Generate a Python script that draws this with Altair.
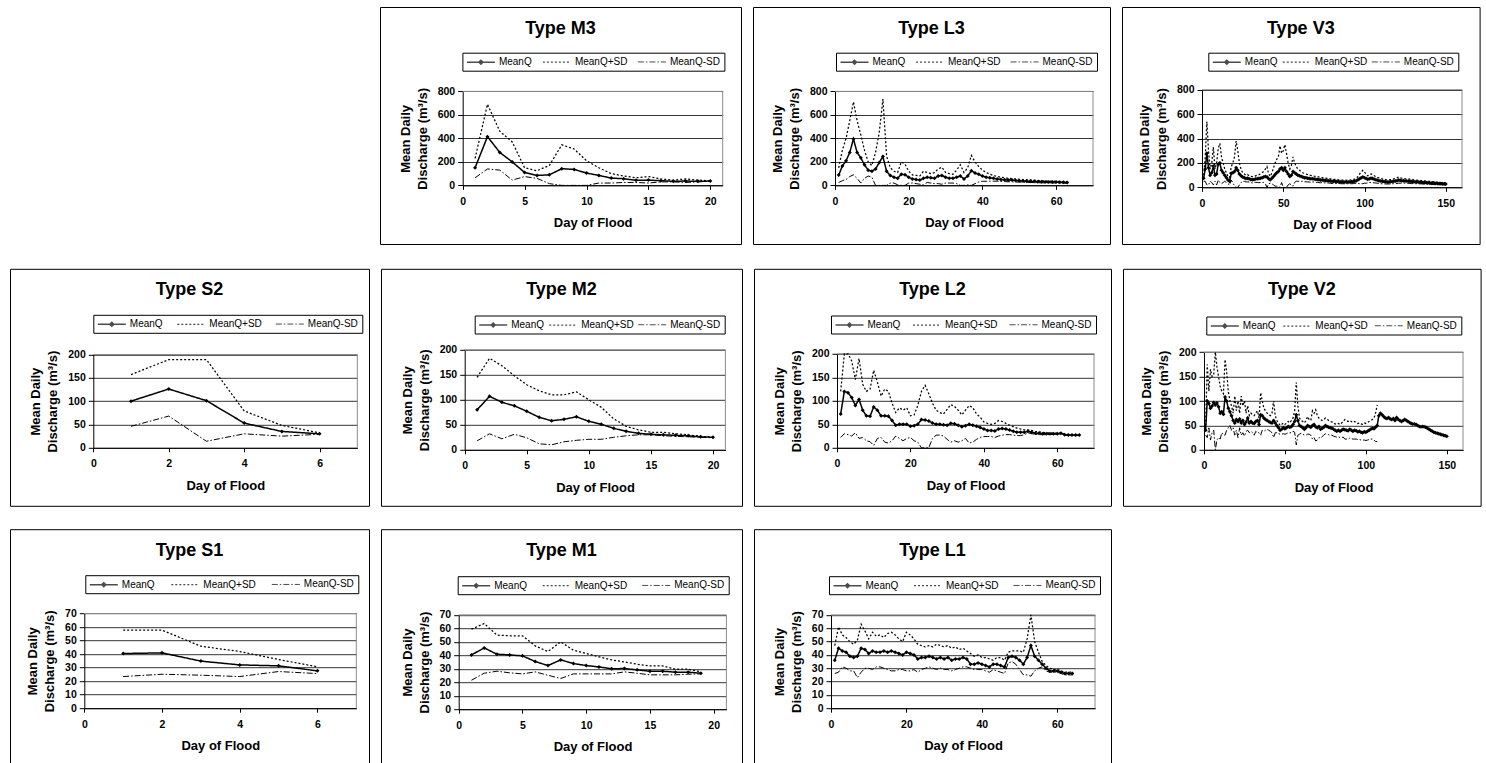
import altair as alt
import pandas as pd

FONT = "Liberation Sans"
SERIES = ["MeanQ", "MeanQ+SD", "MeanQ-SD"]
DASHES = [[1, 0], [2, 2], [6, 2, 1.5, 2]]
MEAN_PATH = "M-2.8,0H2.8M0,-0.4L0.4,0L0,0.4L-0.4,0Z"
LINE_PATH = "M-2.8,0H2.8"

# ---------------- data ----------------
M3_mean = [150, 415, 280, 200, 110, 85, 90, 142, 136, 105, 85, 62, 57, 43, 45, 40, 35, 37, 35, 37]
M3_plus = [230, 690, 460, 370, 150, 125, 170, 345, 310, 210, 150, 100, 80, 65, 75, 55, 45, 55, 45, 40]
M3_minus = [65, 140, 130, 45, 75, 60, 15, -50, -30, -5, 20, 20, 25, 25, 20, 30, 30, 25, 30, 35]

L3_mean = [88, 165, 210, 280, 395, 280, 235, 175, 130, 120,
           140, 195, 245, 120, 85, 70, 60, 95, 90, 70,
           55, 50, 45, 60, 70, 65, 60, 80, 85, 70,
           60, 60, 70, 80, 55, 80, 125, 105, 95, 80,
           70, 65, 60, 55, 50, 48, 45, 45, 42, 40,
           38, 36, 35, 33, 32, 31, 30, 29, 28, 28,
           27, 26, 25]
L3_plus = [150, 300, 400, 550, 710, 550, 430, 300, 200, 170,
           280, 450, 735, 250, 150, 120, 110, 200, 180, 120,
           90, 85, 80, 120, 110, 100, 110, 140, 155, 110,
           100, 95, 130, 175, 110, 150, 255, 200, 160, 130,
           110, 95, 85, 75, 70, 65, 60, 58, 55, 52,
           50, 48, 46, 44, 42, 40, 38, 37, 36, 35,
           34, 33, 32]
L3_minus = [25, 40, 50, 75, 90, 60, 20, 60, 80, 70,
            -10, -60, -200, -10, 20, 20, 5, -10, 0, 20,
            20, 15, 10, 5, 25, 20, 15, 15, 10, 20,
            20, 20, 15, -15, 0, 5, -5, 15, 30, 35,
            35, 36, 36, 36, 34, 32, 31, 30, 29, 28,
            27, 26, 25, 24, 23, 22, 22, 21, 21, 20,
            20, 19, 18]

V3_mean = [75, 150, 280, 160, 100, 120, 175, 100, 110, 190,
           200, 140, 120, 100, 80, 60, 50, 115, 120, 130,
           160, 140, 110, 95, 85, 80, 72, 75, 70, 65,
           62, 65, 68, 70, 72, 75, 80, 85, 90, 85,
           70, 62, 75, 90, 105, 120, 130, 150, 160, 140,
           160, 130, 110, 90, 100, 130, 120, 110, 100, 95,
           90, 85, 80, 78, 75, 72, 70, 70, 68, 66,
           64, 62, 60, 60, 58, 56, 55, 54, 52, 50,
           50, 48, 48, 47, 46, 45, 45, 44, 44, 45,
           45, 46, 48, 50, 55, 62, 70, 78, 85, 80,
           72, 66, 70, 75, 72, 66, 62, 58, 55, 52,
           50, 48, 46, 45, 45, 46, 48, 50, 52, 55,
           60, 56, 55, 54, 52, 52, 50, 50, 48, 47,
           46, 45, 44, 43, 42, 41, 40, 39, 38, 37,
           36, 35, 34, 33, 32, 31, 30, 30, 29, 28]
V3_plus = [100, 250, 540, 300, 150, 200, 330, 150, 200, 320,
           360, 250, 200, 150, 120, 90, 80, 170, 200, 250,
           380, 300, 200, 150, 120, 110, 100, 105, 95, 90,
           88, 90, 95, 100, 105, 110, 120, 130, 150, 170,
           110, 90, 120, 160, 200, 230, 250, 340, 280, 300,
           350, 280, 200, 150, 180, 250, 200, 170, 150, 140,
           130, 120, 115, 110, 105, 100, 98, 95, 92, 90,
           88, 85, 82, 80, 78, 76, 74, 72, 70, 68,
           66, 65, 64, 62, 61, 60, 60, 59, 58, 60,
           60, 62, 65, 68, 75, 90, 110, 125, 140, 125,
           110, 95, 100, 110, 105, 95, 88, 82, 78, 74,
           70, 67, 64, 62, 62, 64, 66, 70, 74, 78,
           85, 78, 75, 73, 70, 70, 68, 67, 65, 63,
           62, 60, 58, 57, 55, 54, 53, 51, 50, 49,
           48, 46, 45, 44, 42, 41, 40, 39, 38, 37]
V3_minus = [50, 50, 20, 20, 50, 40, 20, 50, 20, 60,
            40, 30, 40, 50, 40, 30, 20, 60, 40, 10,
            -60, -20, 20, 40, 50, 50, 45, 45, 45, 40,
            36, 40, 41, 40, 39, 40, 40, 40, 30, 0,
            30, 34, 30, 20, 10, 10, 10, -40, 40, -20,
            -30, -20, 20, 30, 20, 10, 40, 50, 50, 50,
            50, 50, 45, 46, 45, 44, 42, 45, 44, 42,
            40, 39, 38, 40, 38, 36, 36, 36, 34, 32,
            34, 31, 32, 32, 31, 30, 30, 29, 30, 30,
            30, 30, 31, 32, 35, 34, 30, 31, 30, 35,
            34, 37, 40, 40, 39, 37, 36, 34, 32, 30,
            30, 29, 28, 28, 28, 28, 30, 30, 30, 32,
            35, 34, 35, 35, 34, 34, 32, 33, 31, 31,
            30, 30, 30, 29, 29, 28, 27, 27, 26, 25,
            24, 24, 23, 22, 22, 21, 20, 21, 20, 19]

S2_mean = [100, 126, 101, 53, 35, 30]
S2_plus = [157, 189, 189, 79, 48, 32]
S2_minus = [46, 68, 14, 30, 25, 29]

M2_mean = [80, 107, 95, 88, 77, 65, 58, 61, 66, 57, 51, 43, 37, 33, 31, 30, 29, 28, 26, 25]
M2_plus = [145, 183, 168, 148, 130, 118, 110, 110, 116, 100, 85, 62, 47, 40, 35, 35, 32, 30, 27, 25]
M2_minus = [18, 32, 22, 31, 24, 12, 10, 16, 19, 21, 21, 25, 28, 30, 30, 28, 27, 26, 25, 24]

L2_mean = [72, 120, 117, 107, 90, 103, 80, 68, 67, 87,
           80, 68, 68, 67, 58, 48, 50, 50, 50, 46,
           47, 50, 60, 59, 57, 53, 50, 50, 49, 48,
           52, 51, 48, 45, 47, 50, 48, 46, 43, 40,
           37, 37, 36, 40, 41, 40, 38, 35, 33, 33,
           33, 35, 33, 31, 31, 30, 30, 30, 30, 30,
           31, 28, 27, 27, 27, 27]
L2_plus = [120, 205, 200, 185, 145, 190, 135, 120, 125, 165,
           140, 110, 125, 120, 95, 75, 85, 80, 85, 68,
           70, 90, 120, 133, 115, 95, 80, 75, 72, 82,
           92, 88, 80, 70, 80, 90, 85, 72, 65, 55,
           52, 50, 52, 58, 56, 52, 48, 45, 42, 40,
           38, 38, 37, 35, 34, 33, 32, 32, 31, 31,
           31, 29, 28, 28, 27, 27]
L2_minus = [22, 30, 28, 25, 32, 20, 22, 15, 13, 5,
            20, 22, 12, 10, 15, 25, 20, 15, 20, 22,
            15, 12, 0, -5, 0, 20, 27, 27, 25, 18,
            12, 15, 12, 15, 20, 10, 12, 18, 22, 24,
            24, 24, 22, 25, 27, 28, 28, 27, 26, 26,
            28, 32, 30, 29, 28, 28, 28, 28, 29, 29,
            30, 27, 26, 26, 26, 26]

V2_mean = [40, 100, 95, 85, 90, 97, 92, 96, 88, 75,
           78, 73, 108, 100, 85, 78, 70, 60, 55, 62,
           58, 63, 55, 60, 52, 57, 65, 55, 58, 55,
           54, 58, 60, 52, 72, 70, 65, 62, 60, 58,
           56, 55, 60, 55, 50, 45, 40, 42, 45, 43,
           45, 48, 46, 48, 52, 58, 72, 60, 50, 48,
           45, 42, 45, 50, 48, 46, 50, 52, 47, 45,
           48, 42, 44, 46, 50, 48, 46, 45, 44, 42,
           40, 38, 40, 38, 40, 42, 41, 40, 39, 42,
           40, 38, 40, 39, 37, 38, 36, 35, 37, 36,
           38, 40, 42, 44, 43, 46, 50, 70, 75, 72,
           68, 65, 64, 66, 63, 62, 64, 60, 66, 62,
           60, 58, 60, 62, 60, 58, 56, 54, 53, 53,
           52, 50, 48, 47, 48, 47, 46, 44, 42, 40,
           38, 36, 35, 34, 33, 32, 31, 30, 29, 28]
V2_plus = [50, 175, 120, 165, 150, 155, 205, 170, 150, 130,
           120, 115, 185, 160, 120, 100, 90, 75, 110, 80,
           100, 75, 110, 90, 100, 75, 90, 70, 75, 72,
           70, 75, 80, 65, 117, 100, 85, 80, 75, 72,
           70, 75, 100, 70, 60, 55, 50, 52, 55, 52,
           55, 58, 55, 60, 65, 80, 138, 90, 65, 60,
           58, 55, 60, 68, 62, 60, 80, 75, 82, 70,
           65, 62, 60, 62, 65, 63, 60, 58, 57, 55,
           53, 52, 54, 52, 55, 58, 62, 60, 58, 60,
           58, 56, 58, 56, 54, 55, 53, 52, 55, 54,
           56, 58, 60, 62, 65, 75, 92]
V2_minus = [30, 25, 45, 20, 35, 40, 0, 20, 25, 22,
            35, 30, 30, 40, 45, 50, 40, 45, 30, 40,
            25, 45, 30, 35, 28, 38, 40, 35, 38, 35,
            30, 38, 35, 35, 30, 40, 38, 40, 42, 40,
            38, 35, 25, 35, 35, 33, 32, 32, 33, 32,
            33, 35, 35, 35, 38, 36, 10, 30, 32, 34,
            32, 30, 30, 32, 32, 30, 22, 25, 18, 20,
            25, 24, 27, 30, 33, 32, 31, 30, 30, 28,
            27, 26, 27, 25, 25, 26, 22, 22, 21, 24,
            23, 22, 22, 22, 21, 21, 20, 20, 20, 19,
            20, 21, 22, 22, 20, 17, 17]

S1_mean = [40.4, 40.9, 34.8, 32.0, 31.3, 27.6]
S1_plus = [57.7, 57.7, 45.8, 41.9, 36.0, 30.6]
S1_minus = [23.4, 25.1, 24.4, 23.4, 27.1, 25.6]

M1_mean = [40.3, 45.5, 40.8, 40.3, 39.6, 35.4, 32.4, 36.6, 33.9, 32.4,
           31.4, 30.0, 30.2, 29.2, 28.2, 28.2, 27.5, 27.5, 26.7]
M1_plus = [59.4, 63.6, 55.0, 54.5, 54.5, 47.0, 42.8, 50.0, 43.8, 41.3,
           38.9, 36.6, 35.1, 33.4, 32.2, 32.2, 29.7, 29.7, 27.7]
M1_minus = [21.5, 26.7, 28.2, 27.0, 26.2, 27.7, 25.2, 22.8, 26.2, 26.2,
            26.2, 26.2, 27.7, 26.7, 25.5, 25.5, 25.5, 26.0, 26.2]

L1_mean = [36, 45, 43, 42, 39, 38, 39, 45, 44, 41,
           43, 42, 42, 43, 42, 43, 42, 41, 40, 42,
           41, 40, 37, 38, 38, 39, 38, 37, 38, 37,
           38, 36, 37, 37, 38, 37, 33, 33, 34, 33,
           32, 31, 33, 33, 32, 31, 38, 39, 38, 36,
           33, 38, 47, 39, 36, 33, 30, 28, 28, 28,
           27, 26, 26, 26]
L1_plus = [47, 61, 55, 53, 50, 48, 51, 63, 58, 52,
           57, 54, 55, 53, 56, 57, 55, 52, 50, 57,
           55, 52, 48, 47, 46, 47, 46, 48, 47, 46,
           47, 45, 46, 44, 45, 43, 41, 39, 40, 38,
           38, 37, 36, 38, 38, 36, 42, 43, 43, 43,
           42, 52, 70, 50, 42, 35, 32, 30, 29, 29,
           28, 27, 27, 27]
L1_minus = [26, 27, 31, 30, 28, 28, 23, 27, 30, 30,
            29, 31, 31, 30, 29, 28, 28, 29, 29, 28,
            28, 29, 27, 29, 30, 31, 30, 29, 30, 29,
            29, 28, 29, 30, 31, 31, 30, 29, 29, 29,
            28, 27, 29, 28, 27, 26, 34, 35, 33, 29,
            25, 25, 24, 28, 30, 31, 28, 27, 27, 27,
            26, 25, 25, 25]

TICKS_X20 = [0, 5, 10, 15, 20]
TICKS_X60 = [0, 20, 40, 60]
TICKS_X150 = [0, 50, 100, 150]
TICKS_X6 = [0, 2, 4, 6]
TICKS_Y800 = [0, 200, 400, 600, 800]
TICKS_Y200 = [0, 50, 100, 150, 200]
TICKS_Y70 = [0, 10, 20, 30, 40, 50, 60, 70]

LEG_BASE = 244.0

INDEP = dict(strokeDash="independent", shape="independent", strokeWidth="independent")
INDEP_LEG = dict(strokeDash="independent", shape="independent")


def build_df(mean, plus, minus):
    rows = []
    for s, vals in zip(SERIES, (mean, plus, minus)):
        for i, v in enumerate(vals):
            rows.append({"day": i + 1, "q": v, "series": s})
    return pd.DataFrame(rows)


def one_row():
    return alt.Data(values=[{"k": 1}])


def panel(name, mean, plus, minus, xmax, xticks, ymax, yticks,
          BW, BH, L, T, W, H, legX, legY, legW):
    """BW, BH: chart box size; L, T: plot offset inside the box; W, H: plot size."""
    B = BH - T - H
    df = build_df(mean, plus, minus)
    xsc = alt.Scale(domain=[0, xmax], range=[L, L + W], nice=False, clamp=True)
    ysc = alt.Scale(domain=[0, ymax], range=[T + H, T], nice=False, clamp=True)
    xax = alt.Axis(values=xticks, title="Day of Flood", grid=False, labelFlush=False,
                   labelOverlap=False, tickSize=4, labelPadding=7, titlePadding=10,
                   offset=-B)
    yax = alt.Axis(values=yticks, title=["Mean Daily", "Discharge (m³/s)"], grid=True,
                   labelOverlap=False, tickSize=5, labelPadding=3, titlePadding=8,
                   titleLineHeight=17, offset=-L)
    X = alt.X("day:Q", scale=xsc, axis=xax)
    Y = alt.Y("q:Q", scale=ysc, axis=yax)
    colpad = max(2.0, (legW - LEG_BASE) / 2)
    leg = alt.Legend(orient="none", legendX=legX, legendY=legY, direction="horizontal",
                     columns=3, title=None, strokeColor="black", fillColor="white",
                     padding=3.5, labelFontSize=10, labelFont=FONT, symbolSize=100,
                     symbolStrokeWidth=1.1, symbolStrokeColor="black",
                     columnPadding=colpad, labelOffset=12,
                     symbolOffset=9, rowPadding=0, labelLimit=200)
    dash_scale = alt.Scale(domain=SERIES, range=DASHES)
    title = alt.Chart(one_row()).mark_text(text="Type " + name, font=FONT, fontSize=18,
                                           fontWeight="bold", baseline="middle",
                                           align="center", color="black").encode(
        x=alt.value(BW / 2), y=alt.value(21.5))
    border_top = alt.Chart(one_row()).mark_rule(color="#8c8c8c", strokeWidth=1).encode(
        x=alt.XDatum(0, scale=xsc, axis=xax), x2=alt.X2Datum(xmax),
        y=alt.YDatum(ymax, scale=ysc, axis=yax))
    border_right = alt.Chart(one_row()).mark_rule(color="#8c8c8c", strokeWidth=1).encode(
        x=alt.XDatum(xmax, scale=xsc, axis=xax),
        y=alt.YDatum(0, scale=ysc, axis=yax), y2=alt.Y2Datum(ymax))
    lines = alt.Chart(df).mark_line(color="black").encode(
        x=X, y=Y,
        detail="series:N",
        strokeDash=alt.StrokeDash("series:N", scale=dash_scale, legend=leg),
        strokeWidth=alt.StrokeWidth("series:N", scale=alt.Scale(domain=SERIES, range=[1.5, 1, 1]),
                                    legend=None),
        order="day:Q")
    legend_src = alt.Chart(df).transform_filter("datum.day < 0").mark_point(
        filled=False, color="black", strokeWidth=1.1).encode(
        x=X, y=Y,
        shape=alt.Shape("series:N", scale=alt.Scale(domain=SERIES,
                                                    range=[MEAN_PATH, LINE_PATH, LINE_PATH]),
                        legend=leg),
        strokeDash=alt.StrokeDash("series:N", scale=dash_scale, legend=leg))
    pts = alt.Chart(df).transform_filter("datum.series == 'MeanQ'").mark_point(
        shape="diamond", filled=True, color="black", size=16, opacity=1).encode(
        x=X, y=Y)
    return alt.layer(title, border_top, border_right, lines, legend_src, pts).properties(
        width=BW, height=BH)


def blank(BW, BH):
    return alt.Chart(one_row()).mark_rect(opacity=0).encode(
        x=alt.value(0), x2=alt.value(BW), y=alt.value(0), y2=alt.value(BH)
    ).properties(width=BW, height=BH, view=alt.ViewConfig(strokeOpacity=0))


C1, C2, C3, C4 = 359, 361, 357, 357.6
R1, R2, R3 = 237, 237, 242

row1 = alt.hconcat(
    blank(C1, R1),
    panel("M3", M3_mean, M3_plus, M3_minus, 21, TICKS_X20, 800, TICKS_Y800,
          C2, R1, 82.7, 84.4, 260, 94, 82.4, 45.7, 260),
    panel("L3", L3_mean, L3_plus, L3_minus, 70, TICKS_X60, 800, TICKS_Y800,
          C3, R1, 82, 84.4, 258, 94, 83, 45.7, 259),
    panel("V3", V3_mean, V3_plus, V3_minus, 160, TICKS_X150, 800, TICKS_Y800,
          C4, R1, 80, 82.7, 260, 97.7, 86.3, 45.7, 247),
    spacing=10).resolve_scale(**INDEP).resolve_legend(**INDEP_LEG)
row2 = alt.hconcat(
    panel("S2", S2_mean, S2_plus, S2_minus, 7, TICKS_X6, 200, TICKS_Y200,
          C1, R2, 83.3, 85.7, 264, 93.3, 83.3, 46, 267),
    panel("M2", M2_mean, M2_plus, M2_minus, 21, TICKS_X20, 200, TICKS_Y200,
          C2, R2, 83.7, 81, 260.7, 100, 93.7, 46.7, 242),
    panel("L2", L2_mean, L2_plus, L2_minus, 70, TICKS_X60, 200, TICKS_Y200,
          C3, R2, 83, 85, 257, 94, 77, 46.7, 263),
    panel("V2", V2_mean, V2_plus, V2_minus, 160, TICKS_X150, 200, TICKS_Y200,
          C4, R2, 81, 83.4, 259, 97.6, 83.3, 47.7, 253),
    spacing=10).resolve_scale(**INDEP).resolve_legend(**INDEP_LEG)
row3 = alt.hconcat(
    panel("S1", S1_mean, S1_plus, S1_minus, 7, TICKS_X6, 70, TICKS_Y70,
          C1, R3, 74.3, 84.3, 272, 94.7, 75.3, 46, 271),
    panel("M1", M1_mean, M1_plus, M1_minus, 21, TICKS_X20, 70, TICKS_Y70,
          C2, R3, 77.7, 85.7, 267.7, 94.3, 76.7, 47, 269),
    panel("L1", L1_mean, L1_plus, L1_minus, 70, TICKS_X60, 70, TICKS_Y70,
          C3, R3, 77, 85.7, 264, 93.3, 75, 47, 269),
    spacing=10).resolve_scale(**INDEP).resolve_legend(**INDEP_LEG)

top_rows = alt.vconcat(row1, row2, spacing=22.8).resolve_scale(**INDEP).resolve_legend(
    **INDEP_LEG)

chart = alt.vconcat(top_rows, row3, spacing=21.2).resolve_scale(**INDEP).resolve_legend(
    **INDEP_LEG).properties(
    padding={"left": 9, "top": 6, "right": 0, "bottom": 0},
    background="white"
).configure(font=FONT).configure_view(
    stroke="black", strokeWidth=1
).configure_axis(
    domainColor="black", tickColor="black", gridColor="black", gridWidth=0.8,
    labelFont=FONT, labelFontSize=10.5, labelFontWeight="bold", labelColor="black",
    titleFont=FONT, titleFontSize=13, titleFontWeight="bold", titleColor="black"
)

chart.save("out.html", embed_options={"renderer": "svg", "actions": False})
